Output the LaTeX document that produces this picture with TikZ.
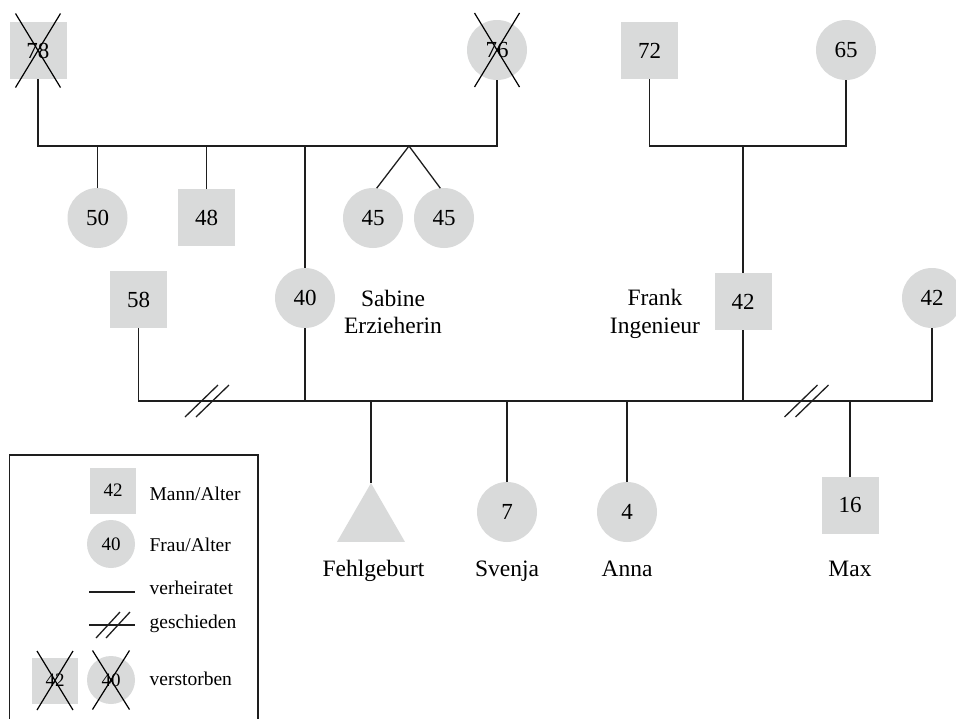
\documentclass[tikz,border=0pt]{standalone}
\usepackage{fontspec}
\setmainfont{Liberation Serif}
\usetikzlibrary{shapes.geometric,calc}
\definecolor{shade}{HTML}{D9DADA}
\definecolor{ink}{HTML}{1E1E1E}
\begin{document}
\begin{tikzpicture}[x=1pt,y=-1pt,line width=1.3pt,
  male/.style={rectangle,fill=shade,minimum size=57pt,inner sep=0pt,outer sep=0pt,font=\fontsize{23}{27}\selectfont},
  female/.style={circle,fill=shade,minimum size=60pt,inner sep=0pt,outer sep=0pt,font=\fontsize{23}{27}\selectfont},
  lmale/.style={rectangle,fill=shade,minimum size=46pt,inner sep=0pt,outer sep=0pt,font=\fontsize{19}{23}\selectfont},
  lfemale/.style={circle,fill=shade,minimum size=48pt,inner sep=0pt,outer sep=0pt,font=\fontsize{19}{23}\selectfont},
  miscarriage/.style={regular polygon,regular polygon sides=3,fill=shade,minimum size=78.5pt,inner sep=0pt,outer sep=0pt},
  link/.style={draw=ink,line width=1.3pt},
  crossline/.style={draw=black,line width=1.2pt},
  lbl/.style={anchor=base,inner sep=0pt,font=\fontsize{23.5}{27}\selectfont},
  legtxt/.style={anchor=base west,inner sep=0pt,font=\fontsize{19.5}{23}\selectfont},
]
\useasboundingbox (0,0) rectangle (956,718);

% generation 1
\node[male]   (m78) at (38,50.5) {78};
\node[female] (f76) at (497,50) {76};
\node[male]   (m72) at (649.5,50.5) {72};
\node[female] (f65) at (846,50) {65};

% generation 2
\node[female] (f50) at (97.5,218) {50};
\node[male]   (m48) at (206.5,217.5) {48};
\node[female] (f45a) at (373,218) {45};
\node[female] (f45b) at (444,218) {45};
\node[male]   (m58) at (138.5,299.5) {58};
\node[female] (f40) at (305,298) {40};
\node[male]   (m42) at (743,301.5) {42};
\node[female] (f42) at (932,298) {42};

\node[lbl] (sab1) at (393,306) {Sabine};
\node[lbl] (sab2) at (393,333) {Erzieherin};
\node[lbl] (fra1) at (655,305) {Frank};
\node[lbl] (fra2) at (655,333) {Ingenieur};

% generation 3
\node[miscarriage] (tri) at (371,522.3) {};
\node[female] (f7) at (507,512) {7};
\node[female] (f4) at (627,512) {4};
\node[male]   (m16) at (850,505) {16};

\node[lbl] (l1) at (373.5,576) {Fehlgeburt};
\node[lbl] (l2) at (507,576) {Svenja};
\node[lbl] (l3) at (627,576) {Anna};
\node[lbl] (l4) at (850,576) {Max};

% deceased crosses
\draw[crossline] ([shift={(-22.5,-37)}]m78.center) -- ([shift={(22.5,37)}]m78.center);
\draw[crossline] ([shift={(22.5,-37)}]m78.center) -- ([shift={(-22.5,37)}]m78.center);
\draw[crossline] ([shift={(-22.5,-37)}]f76.center) -- ([shift={(22.5,37)}]f76.center);
\draw[crossline] ([shift={(22.5,-37)}]f76.center) -- ([shift={(-22.5,37)}]f76.center);

% left family
\coordinate (top1) at (305,146);
\coordinate (twin) at (409,146);
\draw[link] (m78.south) |- (top1) -| (f76.south);
\draw[link] (f50.north) -- (f50.north |- top1);
\draw[link] (m48.north) -- (m48.north |- top1);
\draw[link] (top1) -- (f40.north);
\draw[link] (f45a.83) -- (twin) -- (f45b.97);

% right family
\coordinate (top2) at (743,146);
\draw[link] (m72.south) |- (top2) -| (f65.south);
\draw[link] (top2) -- (m42.north);

% marriages
\coordinate (marR) at (932,401);
\draw[link] (m58.south) |- (marR) -- (f42.south);
\draw[link] (f40.south) -- (f40.south |- marR);
\draw[link] (m42.south) -- (m42.south |- marR);
\draw[link] (tri.corner 1) -- (tri.corner 1 |- marR);
\draw[link] (f7.north) -- (f7.north |- marR);
\draw[link] (f4.north) -- (f4.north |- marR);
\draw[link] (m16.north) -- (m16.north |- marR);

% divorce marks
\coordinate (div1) at (207,401);
\coordinate (div2) at (806.5,401);
\foreach \d in {div1,div2}{
  \draw[link] ($(\d)+(-22,16)$) -- ($(\d)+(11,-16)$);
  \draw[link] ($(\d)+(-11,16)$) -- ($(\d)+(22,-16)$);
}

% legend
\draw[link] (9.5,455) rectangle (258,740);
\node[lmale]   (lm) at (113,490.5) {42};
\node[lfemale] (lf) at (111,544) {40};
\node[legtxt] (t1) at (149,500) {Mann/Alter};
\node[legtxt] (t2) at (149,551) {Frau/Alter};
\coordinate (v1) at (89,592);
\coordinate (v2) at (135,592);
\draw[link] (v1) -- (v2);
\node[legtxt] (t3) at (149,594) {verheiratet};
\coordinate (g1) at (89,625);
\coordinate (g2) at (135,625);
\draw[link] (g1) -- (g2);
\draw[link] (96,638) -- (120,612);
\draw[link] (106,638) -- (130,612);
\node[legtxt] (t4) at (149,628) {geschieden};
\node[lmale]   (dm) at (55,680.5) {42};
\node[lfemale] (df) at (111,680) {40};
\draw[crossline] ([shift={(-18,-29.5)}]dm.center) -- ([shift={(18,29.5)}]dm.center);
\draw[crossline] ([shift={(18,-29.5)}]dm.center) -- ([shift={(-18,29.5)}]dm.center);
\draw[crossline] ([shift={(-18.5,-29.5)}]df.center) -- ([shift={(18.5,29.5)}]df.center);
\draw[crossline] ([shift={(18.5,-29.5)}]df.center) -- ([shift={(-18.5,29.5)}]df.center);
\node[legtxt] (t5) at (149,685) {verstorben};
\end{tikzpicture}
\end{document}
